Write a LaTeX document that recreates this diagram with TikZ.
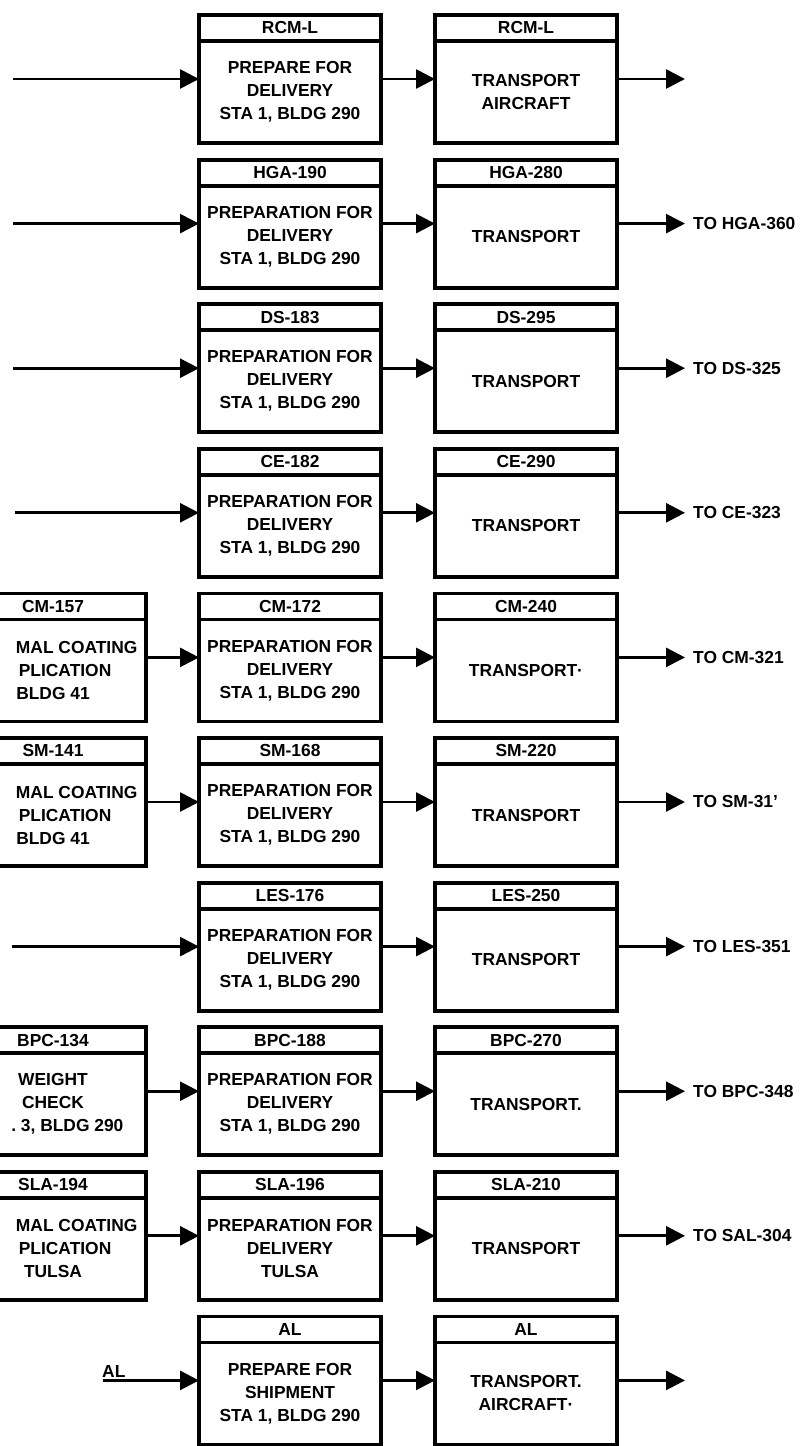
\documentclass[tikz,border=0pt]{standalone}
\usepackage{fontspec}
\setmainfont{Liberation Sans}
\usetikzlibrary{positioning,arrows.meta}
\tikzset{
  flow/.style={-{Triangle[length=19pt,width=19pt]},line width=2.7pt},
  hdrbox/.style={draw,line width=3.8pt,minimum width=182pt,minimum height=26pt,
    inner sep=1pt,outer sep=0pt},
  bodybox/.style={draw,line width=3.8pt,minimum width=182pt,minimum height=102pt,
    inner sep=1pt,outer sep=0pt,align=center},
  cutbox/.style={minimum width=186pt},
  tolabel/.style={inner sep=0pt}
}
\begin{document}
\begin{tikzpicture}[x=1pt,y=1pt,font=\bfseries\fontsize{17.4}{23}\selectfont]
  \useasboundingbox (0,0) rectangle (810,-1446);
  % RCM-L
  \node[hdrbox] (rcmPh) at (290,-28) {RCM-L};
  \node[bodybox,below=0pt of rcmPh] (rcmP) {PREPARE FOR\\DELIVERY\\STA 1, BLDG 290};
  \node[hdrbox,right=54pt of rcmPh] (rcmTh) {RCM-L};
  \node[bodybox,below=0pt of rcmTh] (rcmT) {TRANSPORT\\AIRCRAFT};
  \coordinate (rcmIn) at ([xshift=-186pt,yshift=13pt]rcmP.west);
  \coordinate (rcmOut) at ([xshift=68pt,yshift=13pt]rcmT.east);
  \draw[flow] (rcmIn) -- ([yshift=13pt]rcmP.west);
  \draw[flow] ([yshift=13pt]rcmP.east) -- ([yshift=13pt]rcmT.west);
  \draw[flow] ([yshift=13pt]rcmT.east) -- (rcmOut);
  % HGA
  \node[hdrbox,below=16.6pt of rcmP] (hgaPh) {HGA-190};
  \node[bodybox,below=0pt of hgaPh] (hgaP) {PREPARATION FOR\\DELIVERY\\STA 1, BLDG 290};
  \node[hdrbox,right=54pt of hgaPh] (hgaTh) {HGA-280};
  \node[bodybox,below=0pt of hgaTh] (hgaT) {TRANSPORT};
  \coordinate (hgaIn) at ([xshift=-186pt,yshift=13pt]hgaP.west);
  \coordinate (hgaOut) at ([xshift=68pt,yshift=13pt]hgaT.east);
  \draw[flow] (hgaIn) -- ([yshift=13pt]hgaP.west);
  \draw[flow] ([yshift=13pt]hgaP.east) -- ([yshift=13pt]hgaT.west);
  \draw[flow] ([yshift=13pt]hgaT.east) -- (hgaOut);
  \node[tolabel,right=8pt of hgaOut] (hgaTo) {TO HGA-360};
  % DS
  \node[hdrbox,below=16.6pt of hgaP] (dsPh) {DS-183};
  \node[bodybox,below=0pt of dsPh] (dsP) {PREPARATION FOR\\DELIVERY\\STA 1, BLDG 290};
  \node[hdrbox,right=54pt of dsPh] (dsTh) {DS-295};
  \node[bodybox,below=0pt of dsTh] (dsT) {TRANSPORT};
  \coordinate (dsIn) at ([xshift=-186pt,yshift=13pt]dsP.west);
  \coordinate (dsOut) at ([xshift=68pt,yshift=13pt]dsT.east);
  \draw[flow] (dsIn) -- ([yshift=13pt]dsP.west);
  \draw[flow] ([yshift=13pt]dsP.east) -- ([yshift=13pt]dsT.west);
  \draw[flow] ([yshift=13pt]dsT.east) -- (dsOut);
  \node[tolabel,right=8pt of dsOut] (dsTo) {TO DS-325};
  % CE
  \node[hdrbox,below=16.6pt of dsP] (cePh) {CE-182};
  \node[bodybox,below=0pt of cePh] (ceP) {PREPARATION FOR\\DELIVERY\\STA 1, BLDG 290};
  \node[hdrbox,right=54pt of cePh] (ceTh) {CE-290};
  \node[bodybox,below=0pt of ceTh] (ceT) {TRANSPORT};
  \coordinate (ceIn) at ([xshift=-184pt,yshift=13pt]ceP.west);
  \coordinate (ceOut) at ([xshift=68pt,yshift=13pt]ceT.east);
  \draw[flow] (ceIn) -- ([yshift=13pt]ceP.west);
  \draw[flow] ([yshift=13pt]ceP.east) -- ([yshift=13pt]ceT.west);
  \draw[flow] ([yshift=13pt]ceT.east) -- (ceOut);
  \node[tolabel,right=8pt of ceOut] (ceTo) {TO CE-323};
  % CM
  \node[hdrbox,below=16.6pt of ceP] (cmPh) {CM-172};
  \node[bodybox,below=0pt of cmPh] (cmP) {PREPARATION FOR\\DELIVERY\\STA 1, BLDG 290};
  \node[hdrbox,right=54pt of cmPh] (cmTh) {CM-240};
  \node[bodybox,below=0pt of cmTh] (cmT) {TRANSPORT·};
  \node[hdrbox,cutbox,left=53pt of cmPh] (cmLh) {CM-157};
  \node[bodybox,cutbox,below=0pt of cmLh] (cmL) {\hphantom{THER}MAL COATING\\\hphantom{AP}PLICATION\\BLDG 41};
  \coordinate (cmOut) at ([xshift=68pt,yshift=13pt]cmT.east);
  \draw[flow] ([yshift=13pt]cmL.east) -- ([yshift=13pt]cmP.west);
  \draw[flow] ([yshift=13pt]cmP.east) -- ([yshift=13pt]cmT.west);
  \draw[flow] ([yshift=13pt]cmT.east) -- (cmOut);
  \node[tolabel,right=8pt of cmOut] (cmTo) {TO CM-321};
  % SM
  \node[hdrbox,below=16.6pt of cmP] (smPh) {SM-168};
  \node[bodybox,below=0pt of smPh] (smP) {PREPARATION FOR\\DELIVERY\\STA 1, BLDG 290};
  \node[hdrbox,right=54pt of smPh] (smTh) {SM-220};
  \node[bodybox,below=0pt of smTh] (smT) {TRANSPORT};
  \node[hdrbox,cutbox,left=53pt of smPh] (smLh) {SM-141};
  \node[bodybox,cutbox,below=0pt of smLh] (smL) {\hphantom{THER}MAL COATING\\\hphantom{AP}PLICATION\\BLDG 41};
  \coordinate (smOut) at ([xshift=68pt,yshift=13pt]smT.east);
  \draw[flow] ([yshift=13pt]smL.east) -- ([yshift=13pt]smP.west);
  \draw[flow] ([yshift=13pt]smP.east) -- ([yshift=13pt]smT.west);
  \draw[flow] ([yshift=13pt]smT.east) -- (smOut);
  \node[tolabel,right=8pt of smOut] (smTo) {TO SM-31'};
  % LES
  \node[hdrbox,below=16.6pt of smP] (lesPh) {LES-176};
  \node[bodybox,below=0pt of lesPh] (lesP) {PREPARATION FOR\\DELIVERY\\STA 1, BLDG 290};
  \node[hdrbox,right=54pt of lesPh] (lesTh) {LES-250};
  \node[bodybox,below=0pt of lesTh] (lesT) {TRANSPORT};
  \coordinate (lesIn) at ([xshift=-187pt,yshift=13pt]lesP.west);
  \coordinate (lesOut) at ([xshift=68pt,yshift=13pt]lesT.east);
  \draw[flow] (lesIn) -- ([yshift=13pt]lesP.west);
  \draw[flow] ([yshift=13pt]lesP.east) -- ([yshift=13pt]lesT.west);
  \draw[flow] ([yshift=13pt]lesT.east) -- (lesOut);
  \node[tolabel,right=8pt of lesOut] (lesTo) {TO LES-351};
  % BPC
  \node[hdrbox,below=16.6pt of lesP] (bpcPh) {BPC-188};
  \node[bodybox,below=0pt of bpcPh] (bpcP) {PREPARATION FOR\\DELIVERY\\STA 1, BLDG 290};
  \node[hdrbox,right=54pt of bpcPh] (bpcTh) {BPC-270};
  \node[bodybox,below=0pt of bpcTh] (bpcT) {TRANSPORT.};
  \node[hdrbox,cutbox,left=53pt of bpcPh] (bpcLh) {BPC-134};
  \node[bodybox,cutbox,below=0pt of bpcLh] (bpcL) {WEIGHT\\CHECK\\\hphantom{STA}\llap{.} 3, BLDG 290};
  \coordinate (bpcOut) at ([xshift=68pt,yshift=13pt]bpcT.east);
  \draw[flow] ([yshift=13pt]bpcL.east) -- ([yshift=13pt]bpcP.west);
  \draw[flow] ([yshift=13pt]bpcP.east) -- ([yshift=13pt]bpcT.west);
  \draw[flow] ([yshift=13pt]bpcT.east) -- (bpcOut);
  \node[tolabel,right=8pt of bpcOut] (bpcTo) {TO BPC-348};
  % SLA
  \node[hdrbox,below=16.6pt of bpcP] (slaPh) {SLA-196};
  \node[bodybox,below=0pt of slaPh] (slaP) {PREPARATION FOR\\DELIVERY\\TULSA};
  \node[hdrbox,right=54pt of slaPh] (slaTh) {SLA-210};
  \node[bodybox,below=0pt of slaTh] (slaT) {TRANSPORT};
  \node[hdrbox,cutbox,left=53pt of slaPh] (slaLh) {SLA-194};
  \node[bodybox,cutbox,below=0pt of slaLh] (slaL) {\hphantom{THER}MAL COATING\\\hphantom{AP}PLICATION\\TULSA};
  \coordinate (slaOut) at ([xshift=68pt,yshift=13pt]slaT.east);
  \draw[flow] ([yshift=13pt]slaL.east) -- ([yshift=13pt]slaP.west);
  \draw[flow] ([yshift=13pt]slaP.east) -- ([yshift=13pt]slaT.west);
  \draw[flow] ([yshift=13pt]slaT.east) -- (slaOut);
  \node[tolabel,right=8pt of slaOut] (slaTo) {TO SAL-304};
  % AL
  \node[hdrbox,below=16.6pt of slaP] (alPh) {AL};
  \node[bodybox,below=0pt of alPh] (alP) {PREPARE FOR\\SHIPMENT\\STA 1, BLDG 290};
  \node[hdrbox,right=54pt of alPh] (alTh) {AL};
  \node[bodybox,below=0pt of alTh] (alT) {TRANSPORT.\\AIRCRAFT·};
  \coordinate (alIn) at ([xshift=-96pt,yshift=13pt]alP.west);
  \coordinate (alOut) at ([xshift=68pt,yshift=13pt]alT.east);
  \node[tolabel,above right=3pt and -1pt of alIn] (alLbl) {AL};
  \draw[flow] (alIn) -- ([yshift=13pt]alP.west);
  \draw[flow] ([yshift=13pt]alP.east) -- ([yshift=13pt]alT.west);
  \draw[flow] ([yshift=13pt]alT.east) -- (alOut);
\end{tikzpicture}
\end{document}
